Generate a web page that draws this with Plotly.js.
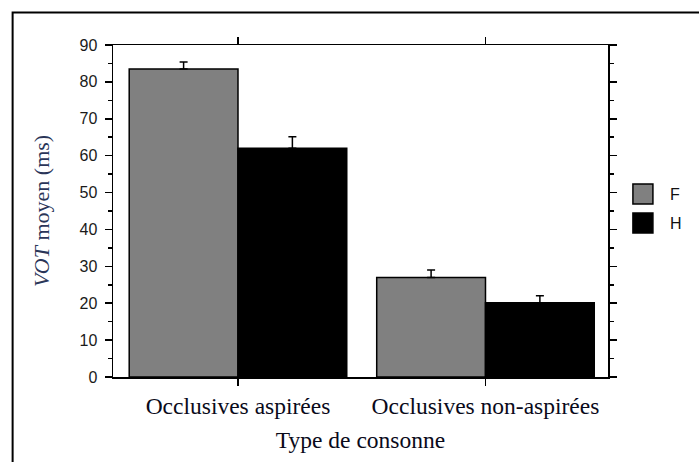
<!DOCTYPE html>
<html>
<head>
<meta charset="utf-8">
<script src="https://cdn.plot.ly/plotly-3.0.1.min.js"></script>
<style>
html, body { margin: 0; padding: 0; background: #fff; }
#chart { width: 699px; height: 462px; }
</style>
</head>
<body>
<div id="chart"></div>
<script>
// ---- data ----
const categories = ['Occlusives aspirées', 'Occlusives non-aspirées'];
const seriesNames = ['F', 'H'];
const fValues = [83.5, 27.0];
const hValues = [62.0, 20.1];
const fErrors = [1.9, 2.0];
const hErrors = [3.1, 1.9];
const yTickValues = [0, 10, 20, 30, 40, 50, 60, 70, 80, 90];

// ---- styles ----
const seriesColors = ['#808080', '#000000'];
const numFont = 'Liberation Sans, Arial, sans-serif';
const serifFont = 'Liberation Serif, Times New Roman, serif';

function barTrace(name, values, errors, color) {
  return {
    type: 'bar',
    name: name,
    x: categories,
    y: values,
    marker: { color: color, line: { color: '#000', width: 1.5 } },
    error_y: {
      type: 'data',
      symmetric: false,
      array: errors,
      arrayminus: errors.map(() => 0),
      color: '#000',
      thickness: 1.5,
      width: 4
    },
    legendgroup: name,
    hoverinfo: 'none'
  };
}

const data = [
  barTrace(seriesNames[0], fValues, fErrors, seriesColors[0]),
  barTrace(seriesNames[1], hValues, hErrors, seriesColors[1])
];

const layout = {
  width: 699,
  height: 462,
  margin: { l: 113, r: 86, t: 45, b: 85 },
  paper_bgcolor: '#fff',
  plot_bgcolor: '#fff',
  barmode: 'group',
  bargap: 0.121,
  bargroupgap: 0,
  showlegend: true,
  legend: {
    x: 1.016, xanchor: 'left',
    y: 0.507, yanchor: 'middle',
    itemwidth: 44,
    font: { family: numFont, size: 16, color: '#111' },
    tracegroupgap: 5,
    traceorder: 'grouped',
    bgcolor: 'rgba(0,0,0,0)'
  },
  xaxis: {
    type: 'category',
    range: [-0.505, 1.495],
    showline: true, linecolor: '#000', linewidth: 1.5,
    mirror: 'ticks',
    ticks: 'outside', ticklen: 7, tickwidth: 1.5, tickcolor: '#000',
    showgrid: false, zeroline: false,
    tickfont: { family: serifFont, size: 23.5, color: '#0a0a1a' },
    title: { text: 'Type de consonne', font: { family: serifFont, size: 23.5, color: '#0a0a1a' }, standoff: 14 },
    fixedrange: true
  },
  yaxis: {
    range: [0, 90],
    tickvals: yTickValues,
    showline: true, linecolor: '#000', linewidth: 1.5,
    mirror: 'ticks',
    ticks: 'outside', ticklen: 7, tickwidth: 1.5, tickcolor: '#000',
    ticklabelstandoff: 4,
    minor: { dtick: 5, ticks: 'outside', ticklen: 4, tickwidth: 1.5, tickcolor: '#000', showgrid: false },
    showgrid: false, zeroline: false,
    tickfont: { family: numFont, size: 16, color: '#1a1a1a' },
    fixedrange: true
  },
  annotations: [{
    xref: 'paper', yref: 'paper',
    x: -0.1455, y: 0.5,
    xanchor: 'center', yanchor: 'middle',
    textangle: -90,
    showarrow: false,
    text: '<i>VOT</i> moyen (ms)',
    font: { family: serifFont, size: 22, color: '#2a3558' }
  }],
  shapes: [{
    type: 'rect', xref: 'paper', yref: 'paper',
    x0: -0.2028, x1: 1.5, y0: -0.5, y1: 1.098,
    line: { color: '#000', width: 2 },
    fillcolor: 'rgba(0,0,0,0)'
  }]
};

function enlargeLegend() {
  document.querySelectorAll('#chart .legendpoints path').forEach(p => {
    p.setAttribute('d', 'M10,10H-10V-10H10Z');
  });
}

const gd = document.getElementById('chart');
Plotly.newPlot(gd, data, layout, { staticPlot: true, displayModeBar: false }).then(() => {
  enlargeLegend();
  gd.on && gd.on('plotly_afterplot', enlargeLegend);
});
</script>
</body>
</html>
